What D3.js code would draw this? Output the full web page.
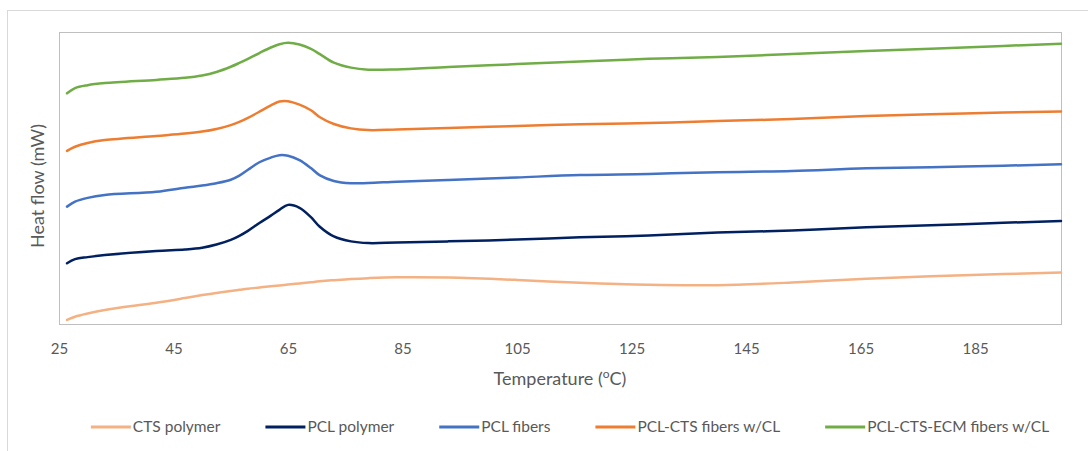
<!DOCTYPE html>
<html>
<head>
<meta charset="utf-8">
<script src="https://cdn.jsdelivr.net/npm/d3@7"></script>
<style>
    body { margin: 0; background: #fff; }
    svg text { font-family: "Lato", "Open Sans", sans-serif; fill: #595959; }
    .frame { fill: none; stroke: #d9d9d9; }
    .plot-border { fill: none; stroke: #bfbfbf; }
    .line { fill: none; stroke-width: 2.5; stroke-linecap: round; stroke-linejoin: round; }
</style>
</head>
<body>
<div id="chart"></div>
<script>
'use strict'

// temperature (°C) sampled along the scans
var temperatures = [26.4, 27.8, 30, 33, 42, 47, 50, 52.5, 55, 56.5, 58, 60, 62, 63.5, 65, 67, 69, 70.5,
    73, 76, 79, 84, 93, 105, 116, 128, 140, 153, 166, 183, 200];

// heat flow, arbitrary offset units (curves are stacked)
var ctsPolymer = [1.4, 2.5, 3.6, 4.8, 7.3, 8.9, 9.9, 10.6, 11.3, 11.7, 12.1, 12.5, 12.9, 13.2, 13.5, 13.9, 14.3, 14.6,
    15.0, 15.4, 15.7, 16.0, 15.9, 15.1, 14.1, 13.4, 13.3, 14.2, 15.5, 16.7, 17.6];
var pclPolymer = [20.8, 22.2, 22.9, 23.6, 25.0, 25.5, 26.1, 27.2, 28.8, 30.2, 31.9, 34.6, 37.1, 39.1, 40.8, 39.8, 36.6, 33.4,
    30.0, 28.3, 27.7, 27.9, 28.3, 28.9, 29.7, 30.3, 31.3, 32.0, 33.1, 34.2, 35.3];
var pclFibers = [40.2, 41.9, 43.2, 44.2, 45.3, 46.7, 47.4, 48.2, 49.4, 50.8, 52.8, 55.4, 57.0, 57.8, 57.6, 56.1, 53.4, 51.0,
    49.0, 48.2, 48.3, 48.7, 49.3, 50.2, 51.0, 51.4, 52.0, 52.4, 53.3, 53.9, 54.7];
var pclCtsFibers = [59.3, 60.7, 62.0, 63.0, 64.4, 65.2, 65.9, 66.8, 68.1, 69.2, 70.6, 72.7, 74.9, 76.2, 76.3, 75.1, 73.2, 70.9,
    68.5, 67.0, 66.4, 66.6, 67.1, 67.8, 68.4, 68.8, 69.5, 70.2, 71.2, 72.1, 72.8];
var pclCtsEcmFibers = [79.0, 80.8, 81.8, 82.5, 83.6, 84.3, 85.1, 86.3, 88.1, 89.4, 90.8, 92.8, 94.7, 95.8, 96.3, 95.7, 94.2, 92.5,
    89.5, 87.8, 87.1, 87.2, 88.0, 89.0, 89.9, 90.8, 91.4, 92.5, 93.5, 94.7, 96.0];

var seriesNames = ["CTS polymer", "PCL polymer", "PCL fibers", "PCL-CTS fibers w/CL", "PCL-CTS-ECM fibers w/CL"];
var seriesColors = ["#f4b183", "#002060", "#4472c4", "#ed7d31", "#70ad47"];
var xTicks = [25, 45, 65, 85, 105, 125, 145, 165, 185];

var _width = 1088, _height = 451;
var _margins = {top: 32, left: 59, right: 27, bottom: 127};

var _svg = d3.select("#chart").append("svg")
        .attr("width", _width)
        .attr("height", _height);

var _xScale = d3.scaleLinear().domain([25, 200]).range([_margins.left, _width - _margins.right]);
var _yScale = d3.scaleLinear().domain([0, 100]).range([_height - _margins.bottom, _margins.top]);

function renderFrame() {
    _svg.append("rect")
            .attr("class", "frame")
            .attr("x", 7.5)
            .attr("y", 10.5)
            .attr("width", _width)
            .attr("height", _height);

    _svg.append("rect")
            .attr("class", "plot-border")
            .attr("x", _xScale.range()[0] + 0.5)
            .attr("y", _yScale.range()[1] + 0.5)
            .attr("width", _xScale.range()[1] - _xScale.range()[0])
            .attr("height", _yScale.range()[0] - _yScale.range()[1]);
}

function renderAxes() {
    var xAxis = d3.axisBottom(_xScale).tickValues(xTicks).tickSize(0).tickPadding(19);
    var g = _svg.append("g")
            .attr("class", "x axis")
            .attr("transform", "translate(0," + _yScale.range()[0] + ")")
            .call(xAxis);
    g.select(".domain").remove();
    g.selectAll("text")
            .style("font-size", "15px")
            .style("font-family", null);

    var title = _svg.append("text")
            .attr("x", 560)
            .attr("y", 385)
            .attr("text-anchor", "middle")
            .style("font-size", "18px");
    title.append("tspan").text("Temperature (");
    title.append("tspan").attr("dy", -7).style("font-size", "12px").text("o");
    title.append("tspan").attr("dy", 7).text("C)");

    _svg.append("text")
            .attr("transform", "translate(44,186) rotate(-90)")
            .attr("text-anchor", "middle")
            .style("font-size", "18px")
            .text("Heat flow (mW)");
}

function renderLines() {
    var allSeries = [ctsPolymer, pclPolymer, pclFibers, pclCtsFibers, pclCtsEcmFibers];
    var line = d3.line()
            .x(function (d, i) { return _xScale(temperatures[i]); })
            .y(function (d) { return _yScale(d); })
            .curve(d3.curveCatmullRom.alpha(0.5));

    _svg.append("g").selectAll("path.line")
            .data(allSeries)
            .enter()
            .append("path")
            .attr("class", "line")
            .style("stroke", function (d, i) { return seriesColors[i]; })
            .attr("d", line);
}

function renderLegend() {
    var legendY = 427, lineLen = 40, gap = 45;
    var g = _svg.append("g").attr("class", "legend");
    var x = 0;
    seriesNames.forEach(function (name, i) {
        var item = g.append("g").attr("transform", "translate(" + x + ",0)");
        item.append("line")
                .attr("x1", 0).attr("x2", lineLen)
                .attr("y1", legendY).attr("y2", legendY)
                .style("stroke", seriesColors[i])
                .style("stroke-width", 3);
        var t = item.append("text")
                .attr("x", lineLen + 2)
                .attr("y", legendY)
                .attr("dy", "0.35em")
                .style("font-size", "15.5px")
                .text(name);
        x += lineLen + 2 + t.node().getComputedTextLength() + gap;
    });
    var total = x - gap;
    g.attr("transform", "translate(" + (570 - total / 2) + ",0)");
}

renderFrame();
renderLines();
renderAxes();
renderLegend();
</script>
</body>
</html>
